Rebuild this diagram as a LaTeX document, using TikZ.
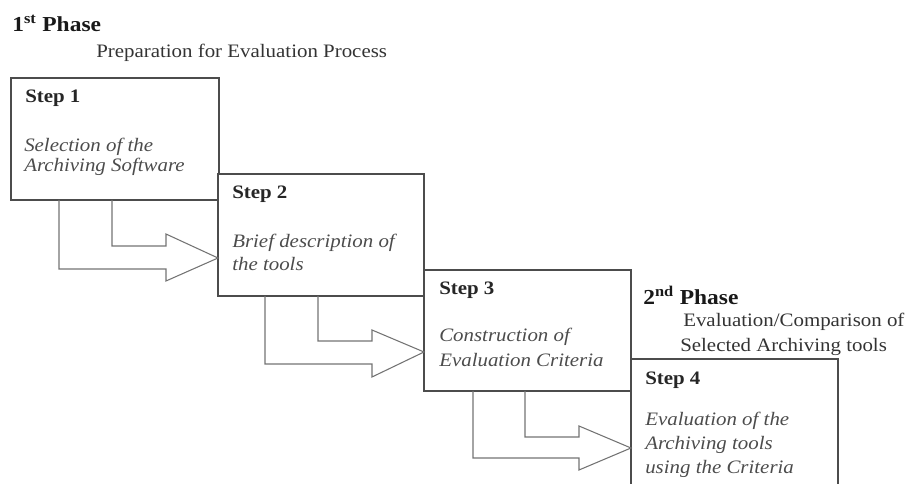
\documentclass[tikz,border=0pt]{standalone}
\usepackage{fontspec}
\setmainfont{Liberation Serif}[FakeStretch=1.1]
\usetikzlibrary{calc}
\newcommand\stagearrow[9]{% from, to, ox, ix, bodytop, bodybot, headtop, headbot, tip
  \draw[barrow] ($(#1.south west)+(#4,0)$) |- ($(#2.north west)+(-52,#5)$)
    -- ($(#2.north west)+(-52,#7)$) -- ($(#2.north west)+(0,#9)$)
    -- ($(#2.north west)+(-52,#8)$) -- ($(#2.north west)+(-52,#6)$)
    -| ($(#1.south west)+(#3,0)$);}
\begin{document}
\begin{tikzpicture}[x=0.75pt,y=-0.75pt,
  box/.style={draw=black!70, line width=0.9pt, fill=white, inner sep=0pt, outer sep=0pt, anchor=north west},
  barrow/.style={draw=black!55, line width=0.8pt, line join=miter},
  phase/.style={anchor=base west, inner sep=0pt, font=\fontsize{16}{19}\selectfont\bfseries, text=black!90},
  sub/.style={anchor=base west, inner sep=0pt, font=\fontsize{14.25}{17}\selectfont, text=black!80},
  stp/.style={anchor=base west, inner sep=0pt, font=\fontsize{14.25}{17}\selectfont\bfseries, text=black!85},
  desc/.style={anchor=base west, inner sep=0pt, font=\fontsize{14.25}{17}\selectfont\itshape, text=black!70}]
\useasboundingbox (0,0) rectangle (911,484);
\clip (0,0) rectangle (911,484);

% phase titles
\node[phase] (p1) at (12,32) {1\textsuperscript{st} Phase};
\node[sub] (p1d) at (96,58) {Preparation for Evaluation Process};
\node[phase] (p2) at (643,305) {2\textsuperscript{nd} Phase};
\node[sub] (p2d1) at (683,327) {Evaluation/Comparison of};
\node[sub] (p2d2) at (680,352) {Selected Archiving tools};

% boxes
\node[box, minimum width=156pt, minimum height=91.5pt] (b1) at (11,78) {};
\node[box, minimum width=154.5pt, minimum height=91.5pt] (b2) at (218,174) {};
\node[box, minimum width=155.25pt, minimum height=90.75pt] (b3) at (424,270) {};
\node[box, minimum width=155.25pt, minimum height=105.75pt] (b4) at (631,359) {};

% box texts
\node[stp] (s1) at (25,103) {Step 1};
\node[desc] (d1a) at (24,152) {Selection of the};
\node[desc] (d1b) at (24,172) {Archiving Software};

\node[stp] (s2) at (232,199) {Step 2};
\node[desc] (d2a) at (232,248) {Brief description of};
\node[desc] (d2b) at (232,271) {the tools};

\node[stp] (s3) at (439,295) {Step 3};
\node[desc] (d3a) at (439,342) {Construction of};
\node[desc] (d3b) at (439,367) {Evaluation Criteria};

\node[stp] (s4) at (645,385) {Step 4};
\node[desc] (d4a) at (645,426) {Evaluation of the};
\node[desc] (d4b) at (645,450) {Archiving tools};
\node[desc] (d4c) at (645,474) {using the Criteria};

% bent arrows
\stagearrow{b1}{b2}{48}{101}{72}{95}{60}{107}{84}
\stagearrow{b2}{b3}{47}{100}{71}{94}{60}{107}{82}
\stagearrow{b3}{b4}{49}{101}{78}{99}{67}{111}{89}
\end{tikzpicture}
\end{document}
